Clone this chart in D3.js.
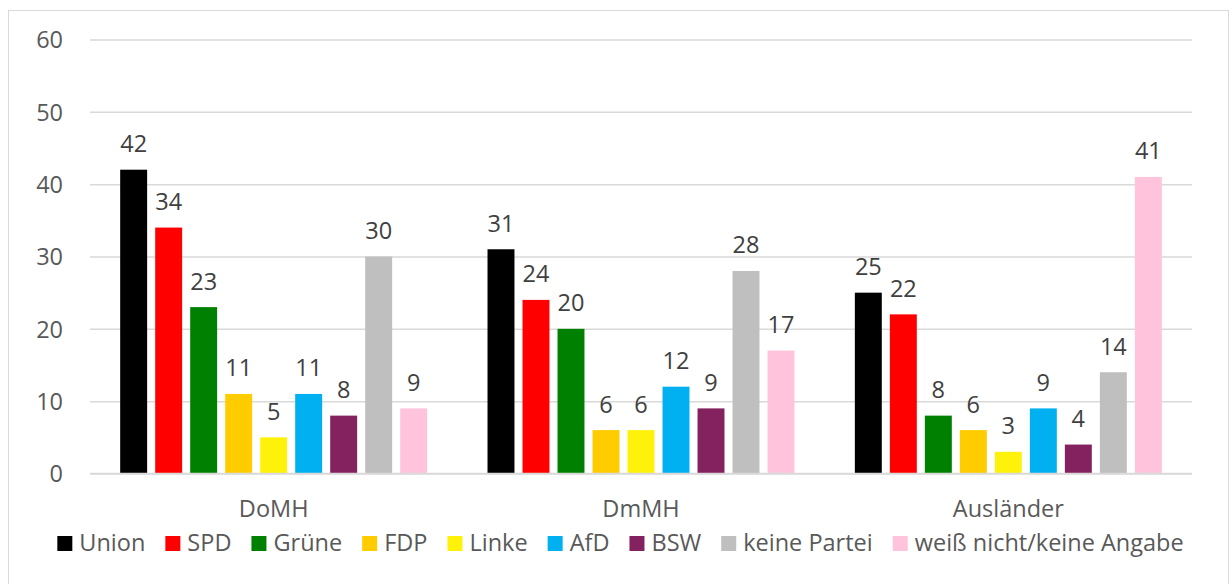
<!DOCTYPE html>
<html>
<head>
<meta charset="utf-8">
<script src="https://cdn.jsdelivr.net/npm/d3@7"></script>
<style>
  html, body { margin: 0; padding: 0; background: #ffffff; }
  svg { display: block; font-family: "Open Sans", "Noto Sans", sans-serif; }
</style>
</head>
<body>
<svg id="chart" width="1232" height="584"></svg>
<script>
const categories = ["DoMH", "DmMH", "Ausländer"];
const seriesNames = ["Union", "SPD", "Grüne", "FDP", "Linke", "AfD", "BSW", "keine Partei", "weiß nicht/keine Angabe"];
const seriesColors = ["#000000", "#FF0000", "#008000", "#FFCC00", "#FFF20A", "#00B0F0", "#84215F", "#BFBFBF", "#FFC4DC"];
const union = [42, 31, 25];
const spd = [34, 24, 22];
const gruene = [23, 20, 8];
const fdp = [11, 6, 6];
const linke = [5, 6, 3];
const afd = [11, 12, 9];
const bsw = [8, 9, 4];
const keinePartei = [30, 28, 14];
const weissNicht = [9, 17, 41];
const yTicks = [0, 10, 20, 30, 40, 50, 60];

const seriesValues = [union, spd, gruene, fdp, linke, afd, bsw, keinePartei, weissNicht];
const FS = 23.5;

const svg = d3.select("#chart");
const plotLeft = 90, plotRight = 1192, plotTop = 39.5, plotBottom = 473.5;

// outer frame
svg.append("rect").attr("x", 8.5).attr("y", 10.5).attr("width", 1220).attr("height", 600)
  .attr("fill", "none").attr("stroke", "#d9d9d9").attr("stroke-width", 1);

const y = d3.scaleLinear().domain([0, 60]).range([plotBottom, plotTop]);
const x0 = d3.scaleBand().domain(categories).range([plotLeft, plotRight]).paddingInner(0.1424).paddingOuter(0.0712);
const x1 = d3.scaleBand().domain(seriesNames).range([0, x0.bandwidth()]).paddingInner(0.23).paddingOuter(0.115);

// gridlines
const yAxis = d3.axisLeft(y).tickValues(yTicks).tickSize(-(plotRight - plotLeft)).tickPadding(27);
const gAxis = svg.append("g").attr("transform", `translate(${plotLeft},0)`).call(yAxis);
gAxis.select(".domain").remove();
gAxis.selectAll(".tick line").attr("stroke", "#d9d9d9").attr("stroke-width", 1.5);
gAxis.selectAll(".tick text").attr("fill", "#595959").attr("font-size", FS)
  .attr("font-family", "'Open Sans', sans-serif").attr("dy", "0.35em");

// bars
const groups = svg.append("g").selectAll("g").data(categories).join("g")
  .attr("transform", d => `translate(${x0(d)},0)`);

groups.each(function(cat, ci) {
  const g = d3.select(this);
  const data = seriesNames.map((s, si) => ({ s, si, v: seriesValues[si][ci] }));
  g.selectAll("rect").data(data).join("rect")
    .attr("x", d => x1(d.s))
    .attr("y", d => y(d.v))
    .attr("width", x1.bandwidth())
    .attr("height", d => y(0) - y(d.v))
    .attr("fill", d => seriesColors[d.si]);
  g.selectAll("text").data(data).join("text")
    .attr("x", d => x1(d.s) + x1.bandwidth() / 2)
    .attr("y", d => y(d.v) - 17.6)
    .attr("text-anchor", "middle")
    .attr("fill", "#404040")
    .attr("font-size", FS)
    .text(d => d.v);
});

// x axis line
svg.append("line").attr("x1", plotLeft).attr("x2", plotRight).attr("y1", plotBottom).attr("y2", plotBottom)
  .attr("stroke", "#d9d9d9").attr("stroke-width", 1.5);

// category labels
svg.append("g").selectAll("text").data(categories).join("text")
  .attr("x", d => x0(d) + x0.bandwidth() / 2)
  .attr("y", 516.5)
  .attr("text-anchor", "middle")
  .attr("fill", "#595959")
  .attr("font-size", FS)
  .text(d => d);

// legend
const legend = svg.append("g");
const items = legend.selectAll("g").data(seriesNames).join("g");
items.append("rect").attr("width", 15).attr("height", 15).attr("y", 536)
  .attr("fill", (d, i) => seriesColors[i]);
items.append("text").attr("x", 22).attr("y", 550.5).attr("fill", "#595959").attr("font-size", FS).text(d => d);
let cx = 0;
const offsets = [];
items.each(function() {
  offsets.push(cx);
  const w = d3.select(this).select("text").node().getComputedTextLength();
  cx += 22 + w + 20;
});
const total = cx - 20;
const startX = 620.5 - total / 2;
items.attr("transform", (d, i) => `translate(${startX + offsets[i]},0)`);
</script>
</body>
</html>
